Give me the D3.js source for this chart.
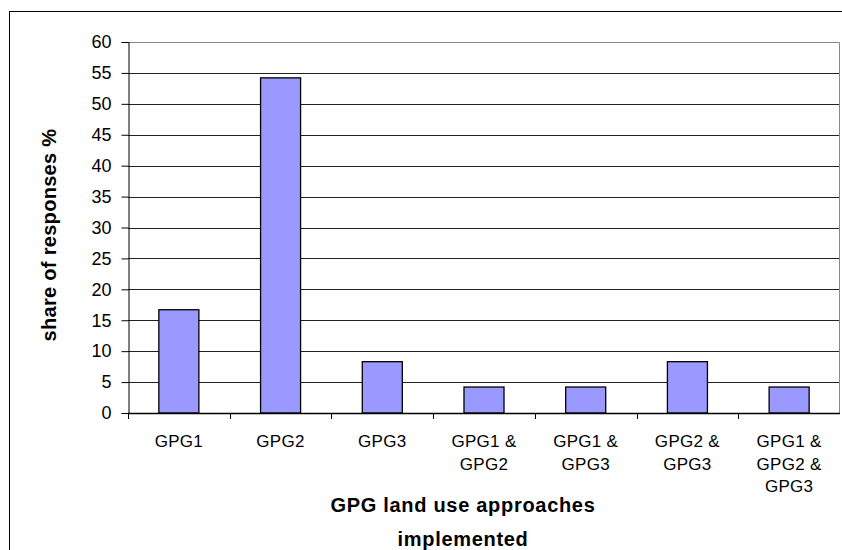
<!DOCTYPE html>
<html>
<head>
<meta charset="utf-8">
<script src="https://cdn.jsdelivr.net/npm/d3@7/dist/d3.min.js"></script>
<style>
  html, body { margin: 0; padding: 0; background: #fff; }
  svg { display: block; font-family: "Liberation Sans", Arial, sans-serif; }
</style>
</head>
<body>
<svg id="chart" width="842" height="550"></svg>
<script>
// Share of responses by GPG land use approach
const categories = [
  ["GPG1"],
  ["GPG2"],
  ["GPG3"],
  ["GPG1 &", "GPG2"],
  ["GPG1 &", "GPG3"],
  ["GPG2 &", "GPG3"],
  ["GPG1 &", "GPG2 &", "GPG3"]
];
const shares = [16.7, 54.2, 8.3, 4.2, 4.2, 8.3, 4.2];
const yTicks = [0, 5, 10, 15, 20, 25, 30, 35, 40, 45, 50, 55, 60];

const svg = d3.select("#chart");
const plot = { left: 128, top: 42, right: 840, bottom: 413 };

// outer chart frame
svg.append("rect")
  .attr("x", 9.5).attr("y", 11.5)
  .attr("width", 842).attr("height", 560)
  .attr("fill", "none").attr("stroke", "#000").attr("stroke-width", 1);

const x = d3.scaleBand()
  .domain(d3.range(categories.length))
  .range([plot.left, plot.right])
  .paddingInner(0.6065).paddingOuter(0.3033);

const y = d3.scaleLinear().domain([0, 60]).range([plot.bottom, plot.top]);

// horizontal gridlines
svg.append("g")
  .selectAll("line")
  .data(yTicks.filter(t => t > 0 && t < 60))
  .join("line")
  .attr("x1", plot.left).attr("x2", plot.right)
  .attr("y1", d => Math.round(y(d)) + 0.5).attr("y2", d => Math.round(y(d)) + 0.5)
  .attr("stroke", "#222").attr("stroke-width", 1);

// plot area border (top and right)
svg.append("path")
  .attr("d", `M${plot.left},${plot.top + 0.5}H${plot.right - 0.5}V${plot.bottom}`)
  .attr("fill", "none").attr("stroke", "#888").attr("stroke-width", 1);

// bars
svg.append("g")
  .selectAll("rect")
  .data(shares)
  .join("rect")
  .attr("x", (d, i) => x(i))
  .attr("width", x.bandwidth())
  .attr("y", d => y(d))
  .attr("height", d => y(0) - y(d))
  .attr("fill", "#9999ff")
  .attr("stroke", "#000")
  .attr("stroke-width", 1.3);

// y axis
const yAxis = d3.axisLeft(y).tickValues(yTicks).tickSize(7).tickPadding(10);
const gy = svg.append("g")
  .attr("transform", `translate(${plot.left + 0.5},0)`)
  .call(yAxis);
gy.select(".domain").attr("stroke", "#000");
gy.selectAll(".tick line").attr("stroke", "#000");
gy.selectAll(".tick text")
  .attr("font-size", 18).attr("fill", "#000")
  .attr("font-family", "'Liberation Sans', Arial, sans-serif");

// x axis line and boundary ticks
const step = x.step();
const boundaries = d3.range(categories.length + 1).map(i => plot.left + i * step);
svg.append("line")
  .attr("x1", plot.left).attr("x2", plot.right)
  .attr("y1", plot.bottom + 0.5).attr("y2", plot.bottom + 0.5)
  .attr("stroke", "#000").attr("stroke-width", 1.3);
svg.append("g")
  .selectAll("line")
  .data(boundaries.slice(0, -1))
  .join("line")
  .attr("x1", d => Math.round(d) + 0.5).attr("x2", d => Math.round(d) + 0.5)
  .attr("y1", plot.bottom).attr("y2", plot.bottom + 6)
  .attr("stroke", "#000");

// category labels
const labels = svg.append("g")
  .attr("font-size", 17).attr("letter-spacing", 0.3)
  .attr("text-anchor", "middle").attr("fill", "#000");
categories.forEach((lines, i) => {
  const cx = x(i) + x.bandwidth() / 2;
  const t = labels.append("text").attr("x", cx).attr("y", 447);
  lines.forEach((ln, j) => {
    t.append("tspan").attr("x", cx).attr("dy", j === 0 ? 0 : 22.5).text(ln);
  });
});

// axis titles
svg.append("text")
  .attr("transform", "translate(56,235) rotate(-90)")
  .attr("text-anchor", "middle")
  .attr("font-size", 20).attr("font-weight", "bold")
  .attr("letter-spacing", 0.3)
  .text("share of responses %");

const xt = svg.append("text")
  .attr("text-anchor", "middle")
  .attr("font-size", 20).attr("font-weight", "bold")
  .attr("letter-spacing", 0.7);
xt.append("tspan").attr("x", 463).attr("y", 512).text("GPG land use approaches");
xt.append("tspan").attr("x", 463).attr("y", 546).text("implemented");
</script>
</body>
</html>
